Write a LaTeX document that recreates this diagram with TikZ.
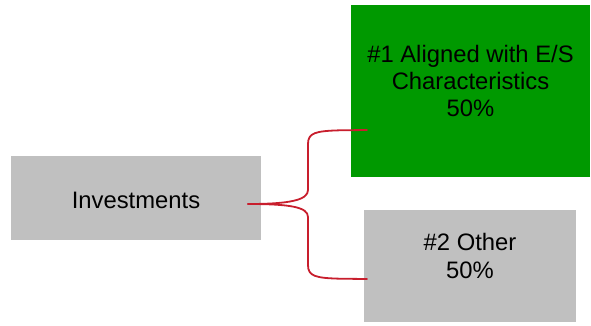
\documentclass[tikz,border=0pt]{standalone}
\usepackage{fontspec}
\setmainfont{Liberation Sans}
\definecolor{boxgray}{RGB}{192,192,192}
\definecolor{boxgreen}{RGB}{0,153,0}
\definecolor{bracered}{RGB}{200,30,45}
\begin{document}
\begin{tikzpicture}[x=1pt,y=-1pt,
  box/.style={draw=none, inner sep=0pt, outer sep=0pt},
  lbl/.style={font=\fontsize{23.8}{27.2}\selectfont, align=center, inner sep=0pt, anchor=base},
  brace/.style={draw=bracered, line width=1.8pt, line cap=round}]
\useasboundingbox (0,0) rectangle (591,325);
\node[box, fill=boxgray, minimum width=250pt, minimum height=84pt] (inv) at (136,198) {};
\node[box, fill=boxgreen, minimum width=239pt, minimum height=172pt] (al) at (470.5,91) {};
\node[box, fill=boxgray, minimum width=212pt, minimum height=112pt] (oth) at (470,266) {};
\node[lbl] (invt) at (136,208.3) {Investments};
\node[lbl] (alt) at (470.5,116.7) {\#1 Aligned with E/S\\Characteristics\\50\%};
\node[lbl] (otht) at (470,278) {\#2 Other\\50\%};
\coordinate (s) at ([shift={(-13,6)}]inv.east);
\coordinate (e1) at ([shift={(16,39)}]al.west);
\coordinate (e2) at ([shift={(3,13)}]oth.west);
\draw[brace] (s) .. controls (290,204) and (308,200) .. (308,190) -- (308,144)
  .. controls (308,133) and (315,131) .. (340,130.3) -- (e1);
\draw[brace] (s) .. controls (290,204) and (308,207) .. (308,217) -- (308,265)
  .. controls (308,276) and (315,278) .. (340,278.7) -- (e2);
\end{tikzpicture}
\end{document}
